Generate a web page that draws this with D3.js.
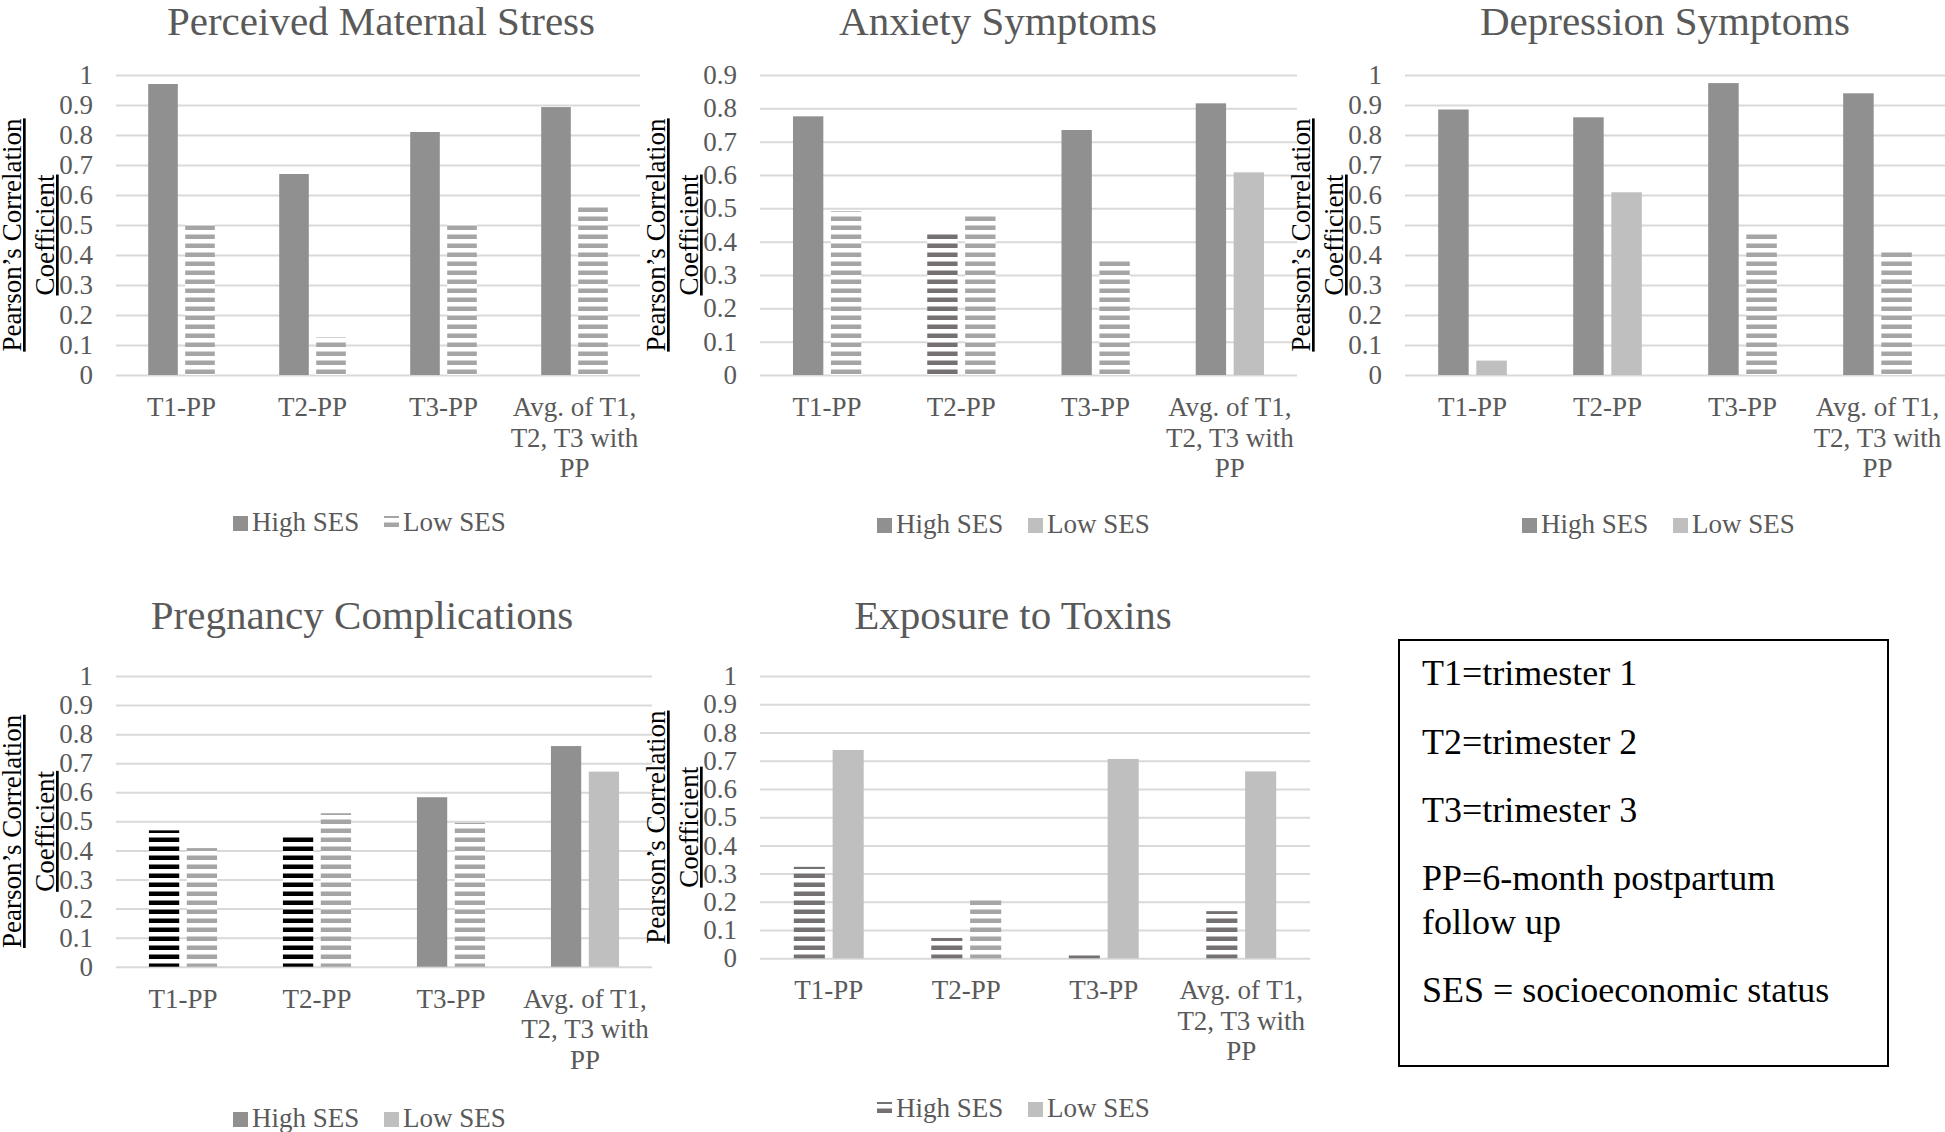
<!DOCTYPE html>
<meta charset="utf-8">
<script src="https://d3js.org/d3.v7.min.js"></script>
<style>
  body { margin: 0; background: #fff; }
  text { font-family: "Liberation Serif", "Times New Roman", serif; }
</style>
<div id="chart"></div>
<script>
// categories, series and tick labels
var categories = ["T1-PP", "T2-PP", "T3-PP", "Avg"];
var categoryLines = [["T1-PP"], ["T2-PP"], ["T3-PP"], ["Avg. of T1,", "T2, T3 with", "PP"]];
var seriesNames = ["High SES", "Low SES"];
var ticksTo1 = [0, 0.1, 0.2, 0.3, 0.4, 0.5, 0.6, 0.7, 0.8, 0.9, 1];
var ticksTo09 = [0, 0.1, 0.2, 0.3, 0.4, 0.5, 0.6, 0.7, 0.8, 0.9];
var yTitleLines = ["Pearson\u2019s Correlation", "Coefficient"];

// Pearson's r (same order as categories)
var stressHigh = [0.97, 0.67, 0.81, 0.893];
var stressLow = [0.51, 0.125, 0.507, 0.562];
var anxietyHigh = [0.776, 0.434, 0.735, 0.815];
var anxietyLow = [0.491, 0.485, 0.353, 0.608];
var depressionHigh = [0.885, 0.859, 0.973, 0.939];
var depressionLow = [0.048, 0.609, 0.481, 0.419];
var complicationsHigh = [0.469, 0.459, 0.583, 0.759];
var complicationsLow = [0.408, 0.528, 0.495, 0.671];
var toxinsHigh = [0.324, 0.072, 0.01, 0.167];
var toxinsLow = [0.738, 0.218, 0.706, 0.662];

var noteLines = ["T1=trimester 1", "T2=trimester 2", "T3=trimester 3",
                 "PP=6-month postpartum", "follow up", "SES = socioeconomic status"];

// fills used by the bars (the original mixes solid and striped fills)
var fills = {
  solid: "#909090",
  light: "#bfbfbf",
  stripe: "url(#stripeLight)",
  dark: "url(#stripeDark)",
  black: "url(#stripeBlack)"
};

var panels = [
  {title: "Perceived Maternal Stress", high: stressHigh, low: stressLow, ticks: ticksTo1,
   highFill: ["solid", "solid", "solid", "solid"], lowFill: ["stripe", "stripe", "stripe", "stripe"],
   legendFill: ["solid", "stripe"],
   l: 116, r: 640, t: 75, b: 375, titleX: 381, titleY: 35, legendY: 531},
  {title: "Anxiety Symptoms", high: anxietyHigh, low: anxietyLow, ticks: ticksTo09,
   highFill: ["solid", "dark", "solid", "solid"], lowFill: ["stripe", "stripe", "stripe", "light"],
   legendFill: ["solid", "light"],
   l: 760, r: 1297, t: 75, b: 375, titleX: 998, titleY: 35, legendY: 533},
  {title: "Depression Symptoms", high: depressionHigh, low: depressionLow, ticks: ticksTo1,
   highFill: ["solid", "solid", "solid", "solid"], lowFill: ["light", "light", "stripe", "stripe"],
   legendFill: ["solid", "light"],
   l: 1405, r: 1945, t: 75, b: 375, titleX: 1665, titleY: 35, legendY: 533},
  {title: "Pregnancy Complications", high: complicationsHigh, low: complicationsLow, ticks: ticksTo1,
   highFill: ["black", "black", "solid", "solid"], lowFill: ["stripe", "stripe", "stripe", "light"],
   legendFill: ["solid", "light"],
   l: 116, r: 652, t: 676, b: 966.7, titleX: 362, titleY: 629, legendY: 1127},
  {title: "Exposure to Toxins", high: toxinsHigh, low: toxinsLow, ticks: ticksTo1,
   highFill: ["dark", "dark", "dark", "dark"], lowFill: ["light", "stripe", "light", "light"],
   legendFill: ["dark", "light"],
   l: 760, r: 1310, t: 676, b: 958.3, titleX: 1013, titleY: 629, legendY: 1117}
];

var W = 1945, H = 1132;
var svg = d3.select("#chart").append("svg")
  .attr("width", W).attr("height", H);

// striped patterns
var defs = svg.append("defs");
[["stripeLight", "#a5a5a5"], ["stripeDark", "#767171"], ["stripeBlack", "#000000"]].forEach(function(p) {
  var pat = defs.append("pattern")
    .attr("id", p[0])
    .attr("patternUnits", "userSpaceOnUse")
    .attr("width", 9).attr("height", 9);
  pat.append("rect").attr("width", 9).attr("height", 9).attr("fill", "#fff");
  pat.append("rect").attr("y", 0.5).attr("width", 9).attr("height", 4.5).attr("fill", p[1]);
});

var textGray = "#595959";

panels.forEach(function(p) {
  var g = svg.append("g");
  var yMax = p.ticks[p.ticks.length - 1];

  var y = d3.scaleLinear().domain([0, yMax]).range([p.b, p.t]);
  var x0 = d3.scaleBand().domain(categories).range([p.l, p.r]);
  var x1 = d3.scaleBand().domain(seriesNames).range([0, x0.bandwidth()])
    .paddingInner(0.2).paddingOuter(0.87);

  // title
  g.append("text")
    .attr("x", p.titleX).attr("y", p.titleY)
    .attr("text-anchor", "middle")
    .attr("fill", textGray)
    .style("font-size", "41px")
    .text(p.title);

  // y axis with gridlines
  var yAxis = g.append("g")
    .attr("transform", "translate(" + p.l + ",0)")
    .call(d3.axisLeft(y).tickValues(p.ticks)
      .tickSize(-(p.r - p.l)).tickPadding(23)
      .tickFormat(function(d) { return String(+d.toFixed(1)); }));
  yAxis.select(".domain").remove();
  yAxis.selectAll(".tick line").attr("stroke", "#d9d9d9").attr("stroke-width", 2);
  yAxis.selectAll(".tick text")
    .attr("fill", textGray)
    .style("font-size", "27px")
    .style("font-family", "'Liberation Serif', 'Times New Roman', serif");

  // bars
  var rows = categories.map(function(c, i) {
    return [
      {cat: c, s: seriesNames[0], v: p.high[i], f: p.highFill[i]},
      {cat: c, s: seriesNames[1], v: p.low[i], f: p.lowFill[i]}
    ];
  });
  g.append("g").selectAll("g")
    .data(rows).enter().append("g")
    .attr("transform", function(d) { return "translate(" + x0(d[0].cat) + ",0)"; })
    .selectAll("rect")
    .data(function(d) { return d; }).enter().append("rect")
      .attr("x", function(d) { return x1(d.s); })
      .attr("y", function(d) { return y(d.v); })
      .attr("width", x1.bandwidth())
      .attr("height", function(d) { return y(0) - y(d.v); })
      .attr("fill", function(d) { return fills[d.f]; });

  // category labels
  g.append("g").selectAll("text")
    .data(categories).enter().append("text")
    .attr("x", function(d) { return x0(d) + x0.bandwidth() / 2; })
    .attr("y", p.b + 41)
    .attr("text-anchor", "middle")
    .attr("fill", textGray)
    .style("font-size", "27px")
    .each(function(d, i) {
      var t = d3.select(this);
      categoryLines[i].forEach(function(line, k) {
        t.append("tspan")
          .attr("x", x0(d) + x0.bandwidth() / 2)
          .attr("dy", k === 0 ? 0 : 30.5)
          .text(line);
      });
    });

  // y axis title, two underlined lines
  var yt = g.append("g")
    .attr("transform", "translate(" + (p.l - 95) + "," + ((p.t + p.b) / 2 + 10) + ") rotate(-90)");
  yTitleLines.forEach(function(line, k) {
    yt.append("text")
      .attr("x", 0).attr("y", k * 33)
      .attr("text-anchor", "middle")
      .attr("fill", "#000")
      .style("font-size", "27px")
      .style("text-decoration", "underline")
      .text(line);
  });

  // legend
  var lg = g.append("g").attr("transform", "translate(" + (p.l + 117) + "," + p.legendY + ")");
  seriesNames.forEach(function(name, k) {
    var ox = k * 151;
    lg.append("rect")
      .attr("x", ox).attr("y", -15)
      .attr("width", 15).attr("height", 15)
      .attr("fill", fills[p.legendFill[k]]);
    lg.append("text")
      .attr("x", ox + 19).attr("y", 0)
      .attr("fill", textGray)
      .style("font-size", "27px")
      .text(name);
  });
});

// note box
var note = svg.append("g");
note.append("rect")
  .attr("x", 1399).attr("y", 640)
  .attr("width", 489).attr("height", 426)
  .attr("fill", "none").attr("stroke", "#000").attr("stroke-width", 2);
var noteY = [685, 754, 822, 890, 934, 1002];
note.selectAll("text")
  .data(noteLines).enter().append("text")
  .attr("x", 1422)
  .attr("y", function(d, i) { return noteY[i]; })
  .attr("fill", "#000")
  .style("font-size", "36px")
  .text(function(d) { return d; });
</script>
